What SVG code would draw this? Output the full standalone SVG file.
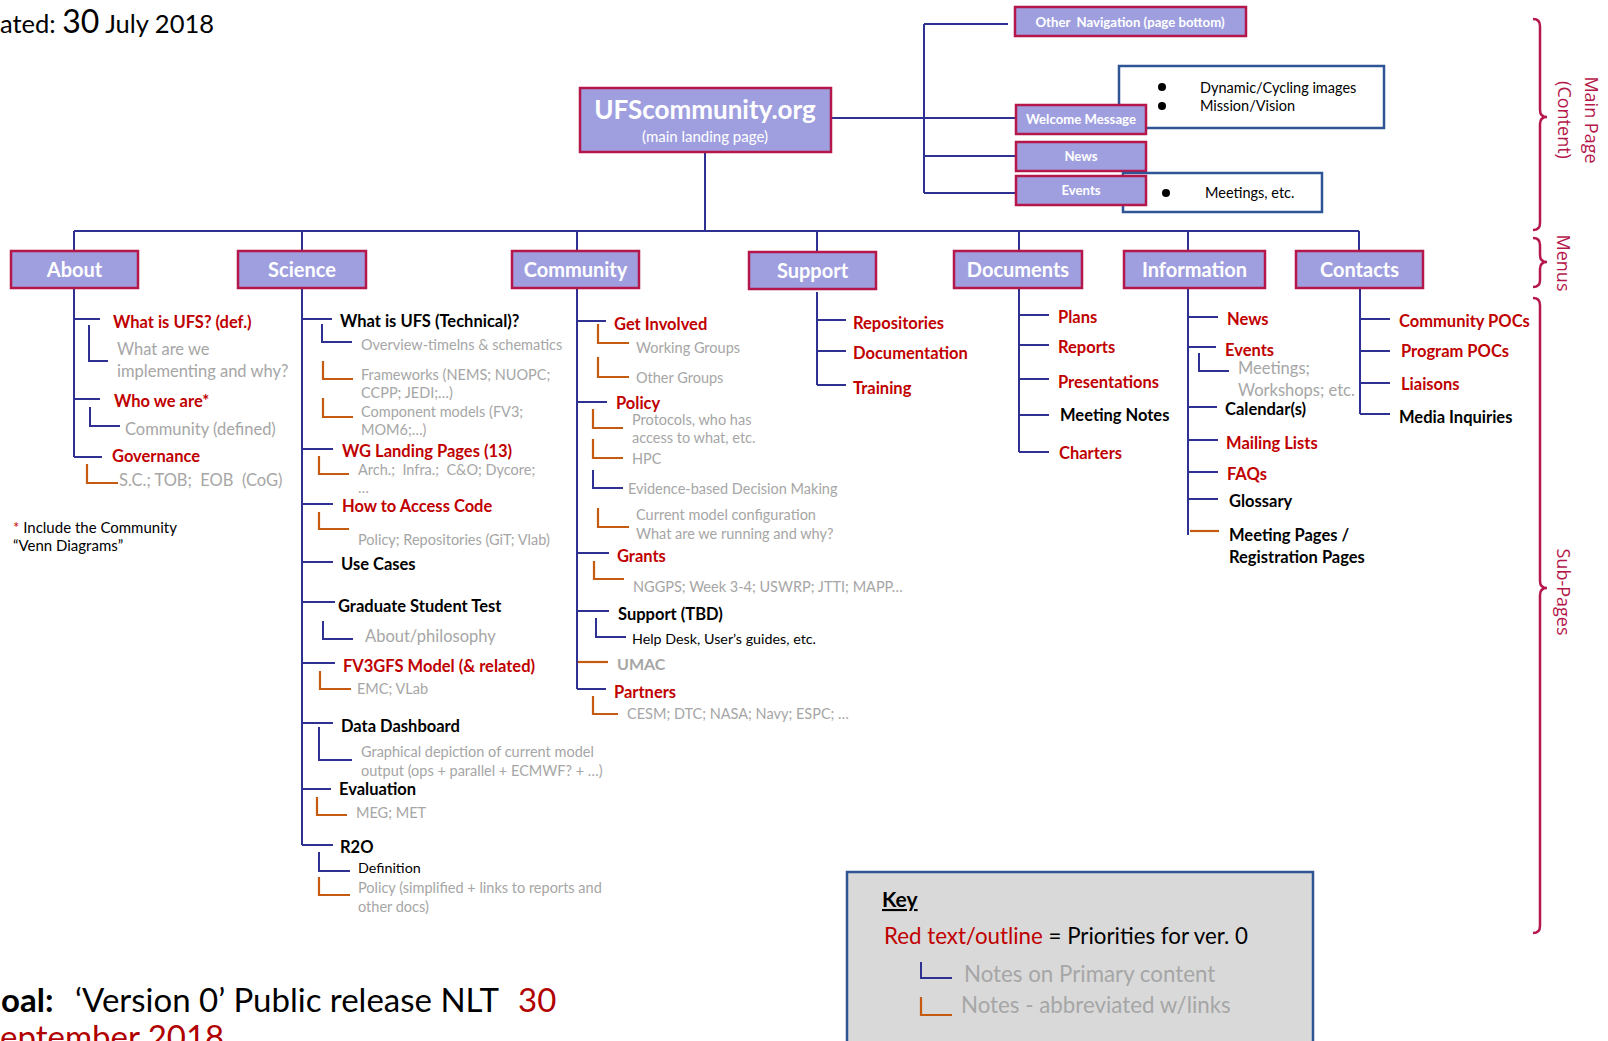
<svg xmlns="http://www.w3.org/2000/svg" width="1608" height="1041" viewBox="0 0 1608 1041">
<style>
text{font-family:Lato,"Open Sans","Liberation Sans",sans-serif}
.c{stroke:#2e3192;stroke-width:2;fill:none}
.o{stroke:#c55a11;stroke-width:2.2;fill:none}
.box{fill:#9f9fe0;stroke:#b5174a;stroke-width:2.5}
.bb{fill:#fff;stroke:#2f5597;stroke-width:2.5}
.mt{font-weight:bold;font-size:20px;fill:#fff;text-anchor:middle}
.st{font-weight:bold;font-size:13.2px;fill:#fff;text-anchor:middle}
.r{font-weight:bold;font-size:16.5px;fill:#c00000}
.k{font-weight:bold;font-size:16.5px;fill:#000}
.g{font-size:14.5px;fill:#a6a6a6}
.ga{font-size:16.5px;fill:#a6a6a6}
.n{font-size:14.3px;fill:#000}
.nb{font-size:14.5px;fill:#000}
.br{stroke:#b5174a;stroke-width:2.5;fill:none}
.bl{font-family:"Open Sans",Lato,sans-serif;font-size:18px;fill:#b5174a;text-anchor:middle}
</style>

<!-- header / footer texts -->
<text x="0" y="33" font-size="25.5" fill="#000">ated: <tspan font-size="32">30</tspan> July 2018</text>
<text y="1012" font-size="33" fill="#000"><tspan x="1" font-weight="bold">oal:</tspan><tspan x="75">‘Version 0’ Public release NLT</tspan><tspan x="518" fill="#b00000">30</tspan></text>
<text x="0" y="1049" font-size="33" fill="#b00000">eptember 2018</text>

<!-- connectors -->
<g id="connectors">
  <path class="c" d="M705,152V231"/>
  <path class="c" stroke-width="2.5" d="M74,231H1359"/>
  <path class="c" d="M74,231V251M302,231V251M577,231V251M817,231V252M1019,231V251M1188,231V251M1359,231V251"/>
  <path class="c" stroke-width="4" d="M831,118H924"/>
  <path class="c" d="M924,24V193M924,24H1008M924,118H1016M924,156H1016M924,193H1016"/>
  <!-- About -->
  <path class="c" d="M74,288V457M74,319H100M74,399H100M74,457H102"/>
  <path class="c" d="M89,325V361H108M90,407V426H120"/>
  <path class="o" d="M87,464V483H118"/>
  <!-- Science -->
  <path class="c" d="M302,288V845M302,319H332M302,449H333M302,504H333M302,562H333M302,602H335M302,663H335M302,723H333M302,789H331M302,845H333"/>
  <path class="c" d="M322,324V342H352M323,621V639H353M319,727V760H352M319,852V871H350"/>
  <path class="o" d="M323,361V379H353M323,398V417H353M319,456V474H349M319,512V529H349M320,671V689H351M317,797V815H347M319,877V895H350"/>
  <!-- Community -->
  <path class="c" d="M577,289V689M577,321H606M577,402H607M577,553H609M577,611H609M577,689H606"/>
  <path class="o" stroke-width="6" d="M578,662H608"/>
  <path class="o" d="M598,324V343H629M598,357V377H629M593,409V428H623M593,439V458H623M598,508V527H629M594,561V579H624M593,696V714H618"/>
  <path class="c" d="M593,470V488H623M596,618V637H626"/>
  <!-- Support -->
  <path class="c" d="M817,292V385M817,320H846M817,351H846M817,385H846"/>
  <!-- Documents -->
  <path class="c" d="M1019,288V452M1019,315H1049M1019,345H1049M1019,379H1049M1019,415H1049M1019,452H1049"/>
  <!-- Information -->
  <path class="c" d="M1188,289V535M1188,317H1218M1188,347H1216M1188,407H1217M1188,440H1218M1188,472H1218M1188,499H1218"/>
  <path class="o" stroke-width="5" d="M1190,531H1219"/>
  <path class="c" d="M1199,353V371H1229"/>
  <!-- Contacts -->
  <path class="c" d="M1360,288V414M1360,319H1390M1360,351H1390M1360,383H1390M1360,414H1390"/>
</g>

<!-- main node -->
<g id="main">
  <rect class="box" x="580" y="88" width="251" height="64"/>
  <text x="705" y="119" font-weight="bold" font-size="26" fill="#fff" text-anchor="middle">UFScommunity.org</text>
  <text x="705" y="142" font-size="15" fill="#fff" text-anchor="middle">(main landing page)</text>
</g>

<!-- main page side nodes -->
<g id="other-nav">
  <rect class="box" x="1015" y="7" width="231" height="29"/>
  <text class="st" x="1130" y="27" xml:space="preserve">Other  Navigation (page bottom)</text>
</g>
<g id="welcome-notes">
  <rect class="bb" x="1119" y="66" width="265" height="62"/>
  <circle cx="1162" cy="87" r="4"/>
  <circle cx="1162" cy="106" r="4"/>
  <text class="nb" x="1200" y="93">Dynamic/Cycling images</text>
  <text class="nb" x="1200" y="111">Mission/Vision</text>
</g>
<g id="welcome">
  <rect class="box" x="1016" y="105" width="130" height="29"/>
  <text class="st" x="1081" y="124">Welcome Message</text>
</g>
<g id="news-main">
  <rect class="box" x="1016" y="142" width="130" height="29"/>
  <text class="st" x="1081" y="161">News</text>
</g>
<g id="events-notes">
  <rect class="bb" x="1123" y="173" width="199" height="39"/>
  <circle cx="1166" cy="193" r="4"/>
  <text class="nb" x="1205" y="198">Meetings, etc.</text>
</g>
<g id="events-main">
  <rect class="box" x="1016" y="176" width="130" height="29"/>
  <text class="st" x="1081" y="195">Events</text>
</g>

<!-- menus -->
<g id="menu-about"><rect class="box" x="11" y="251" width="127" height="37"/><text class="mt" x="74.5" y="277">About</text></g>
<g id="menu-science"><rect class="box" x="238" y="251" width="128" height="37"/><text class="mt" x="302" y="277">Science</text></g>
<g id="menu-community"><rect class="box" x="512" y="251" width="127" height="37"/><text class="mt" x="575.5" y="277">Community</text></g>
<g id="menu-support"><rect class="box" x="749" y="252" width="127" height="37"/><text class="mt" x="812.5" y="278">Support</text></g>
<g id="menu-documents"><rect class="box" x="954" y="251" width="128" height="37"/><text class="mt" x="1018" y="277">Documents</text></g>
<g id="menu-information"><rect class="box" x="1124" y="251" width="141" height="37"/><text class="mt" x="1194.5" y="277">Information</text></g>
<g id="menu-contacts"><rect class="box" x="1296" y="251" width="127" height="37"/><text class="mt" x="1359.5" y="277">Contacts</text></g>

<!-- About items -->
<g id="about-what-is-ufs">
  <text class="r" x="113" y="328">What is UFS? (def.)</text>
  <text class="ga" x="117" y="355">What are we</text>
  <text class="ga" x="117" y="377">implementing and why?</text>
</g>
<g id="about-who-we-are">
  <text class="r" x="114" y="407">Who we are*</text>
  <text class="ga" x="125" y="435">Community (defined)</text>
</g>
<g id="about-governance">
  <text class="r" x="112" y="462">Governance</text>
  <text class="ga" x="119" y="486" xml:space="preserve">S.C.; TOB;  EOB  (CoG)</text>
</g>
<g id="footnote">
  <text x="13" y="533" font-size="15" fill="#000"><tspan fill="#c00000">*</tspan> Include the Community</text>
  <text x="13" y="551" font-size="15" fill="#000">“Venn Diagrams”</text>
</g>

<!-- Science items -->
<g id="sci-what-is-ufs">
  <text class="k" x="340" y="327">What is UFS (Technical)?</text>
  <text class="g" x="361" y="350">Overview-timelns &amp; schematics</text>
  <text class="g" x="361" y="380">Frameworks (NEMS; NUOPC;</text>
  <text class="g" x="361" y="398">CCPP; JEDI;…)</text>
  <text class="g" x="361" y="417">Component models (FV3;</text>
  <text class="g" x="361" y="435">MOM6;…)</text>
</g>
<g id="sci-wg">
  <text class="r" x="342" y="457">WG Landing Pages (13)</text>
  <text class="g" x="358" y="475" xml:space="preserve">Arch.;  Infra.;  C&amp;O; Dycore;</text>
  <text class="g" x="358" y="493">…</text>
</g>
<g id="sci-access">
  <text class="r" x="342" y="512">How to Access Code</text>
  <text class="g" x="358" y="545">Policy; Repositories (GiT; Vlab)</text>
</g>
<g id="sci-use-cases"><text class="k" x="341" y="570">Use Cases</text></g>
<g id="sci-grad">
  <text class="k" x="338" y="612">Graduate Student Test</text>
  <text class="ga" x="365" y="642">About/philosophy</text>
</g>
<g id="sci-fv3">
  <text class="r" x="343" y="672">FV3GFS Model (&amp; related)</text>
  <text class="g" x="357" y="694">EMC; VLab</text>
</g>
<g id="sci-dashboard">
  <text class="k" x="341" y="732">Data Dashboard</text>
  <text class="g" x="361" y="757">Graphical depiction of current model</text>
  <text class="g" x="361" y="776">output (ops + parallel + ECMWF? + …)</text>
</g>
<g id="sci-eval">
  <text class="k" x="339" y="795">Evaluation</text>
  <text class="g" x="356" y="818">MEG; MET</text>
</g>
<g id="sci-r2o">
  <text class="k" x="340" y="853">R2O</text>
  <text class="n" x="358" y="873">Definition</text>
  <text class="g" x="358" y="893">Policy (simplified + links to reports and</text>
  <text class="g" x="358" y="912">other docs)</text>
</g>

<!-- Community items -->
<g id="com-get-involved">
  <text class="r" x="614" y="330">Get Involved</text>
  <text class="g" x="636" y="353">Working Groups</text>
  <text class="g" x="636" y="383">Other Groups</text>
</g>
<g id="com-policy">
  <text class="r" x="616" y="409">Policy</text>
  <text class="g" x="632" y="425">Protocols, who has</text>
  <text class="g" x="632" y="443">access to what, etc.</text>
  <text class="g" x="632" y="464">HPC</text>
  <text class="g" x="628" y="494">Evidence-based Decision Making</text>
  <text class="g" x="636" y="520">Current model configuration</text>
  <text class="g" x="636" y="539">What are we running and why?</text>
</g>
<g id="com-grants">
  <text class="r" x="617" y="562">Grants</text>
  <text class="g" x="633" y="592">NGGPS; Week 3-4; USWRP; JTTI; MAPP…</text>
</g>
<g id="com-support">
  <text class="k" x="618" y="620">Support (TBD)</text>
  <text class="n" x="632" y="644">Help Desk, User’s guides, etc.</text>
</g>
<g id="com-umac"><text x="617" y="670" font-weight="bold" font-size="16" fill="#a6a6a6">UMAC</text></g>
<g id="com-partners">
  <text class="r" x="614" y="698">Partners</text>
  <text class="g" x="627" y="719">CESM; DTC; NASA; Navy; ESPC; …</text>
</g>

<!-- Support items -->
<g id="sup-repos"><text class="r" x="853" y="329">Repositories</text></g>
<g id="sup-docs"><text class="r" x="853" y="359">Documentation</text></g>
<g id="sup-training"><text class="r" x="853" y="394">Training</text></g>

<!-- Documents items -->
<g id="doc-plans"><text class="r" x="1058" y="323">Plans</text></g>
<g id="doc-reports"><text class="r" x="1058" y="353">Reports</text></g>
<g id="doc-presentations"><text class="r" x="1058" y="388">Presentations</text></g>
<g id="doc-notes"><text class="k" x="1060" y="421">Meeting Notes</text></g>
<g id="doc-charters"><text class="r" x="1059" y="459">Charters</text></g>

<!-- Information items -->
<g id="inf-news"><text class="r" x="1227" y="325">News</text></g>
<g id="inf-events">
  <text class="r" x="1225" y="356">Events</text>
  <text class="ga" x="1238" y="374">Meetings;</text>
  <text class="ga" x="1238" y="396">Workshops; etc.</text>
</g>
<g id="inf-calendar"><text class="k" x="1225" y="415">Calendar(s)</text></g>
<g id="inf-mailing"><text class="r" x="1226" y="449">Mailing Lists</text></g>
<g id="inf-faqs"><text class="r" x="1227" y="480">FAQs</text></g>
<g id="inf-glossary"><text class="k" x="1229" y="507">Glossary</text></g>
<g id="inf-meeting-pages">
  <text class="k" x="1229" y="541">Meeting Pages /</text>
  <text class="k" x="1229" y="563">Registration Pages</text>
</g>

<!-- Contacts items -->
<g id="con-community"><text class="r" x="1399" y="327">Community POCs</text></g>
<g id="con-program"><text class="r" x="1401" y="357">Program POCs</text></g>
<g id="con-liaisons"><text class="r" x="1401" y="390">Liaisons</text></g>
<g id="con-media"><text class="k" x="1399" y="423">Media Inquiries</text></g>

<!-- braces -->
<g id="braces">
  <path class="br" d="M1533,19Q1540,19 1540,26V110Q1540,117 1547,117Q1540,117 1540,124V223Q1540,230 1533,230"/>
  <path class="br" d="M1533,238Q1540,238 1540,245V255Q1540,262 1547,262Q1540,262 1540,269V280Q1540,287 1533,287"/>
  <path class="br" d="M1533,298Q1540,298 1540,305V581Q1540,588 1547,588Q1540,588 1540,595V926Q1540,933 1533,933"/>
  <text class="bl" transform="translate(1585,120) rotate(90)">Main Page</text>
  <text class="bl" transform="translate(1558,120) rotate(90)">(Content)</text>
  <text class="bl" transform="translate(1557,263) rotate(90)">Menus</text>
  <text class="bl" transform="translate(1557,592) rotate(90)">Sub-Pages</text>
</g>

<!-- key -->
<g id="key">
  <rect x="847" y="872" width="466" height="190" fill="#d9d9d9" stroke="#2f5597" stroke-width="2.5"/>
  <text x="882" y="907" font-weight="bold" font-size="21" fill="#000" text-decoration="underline">Key</text>
  <text x="884" y="944" font-size="22.3" fill="#000"><tspan fill="#c00000">Red text/outline</tspan> = Priorities for ver. 0</text>
  <path class="c" d="M921,962V978H952"/>
  <path class="o" d="M921,997V1015H952"/>
  <text x="964" y="982" font-size="22.3" fill="#a6a6a6">Notes on Primary content</text>
  <text x="961" y="1013" font-size="22.3" fill="#a6a6a6">Notes - abbreviated w/links</text>
</g>
</svg>
